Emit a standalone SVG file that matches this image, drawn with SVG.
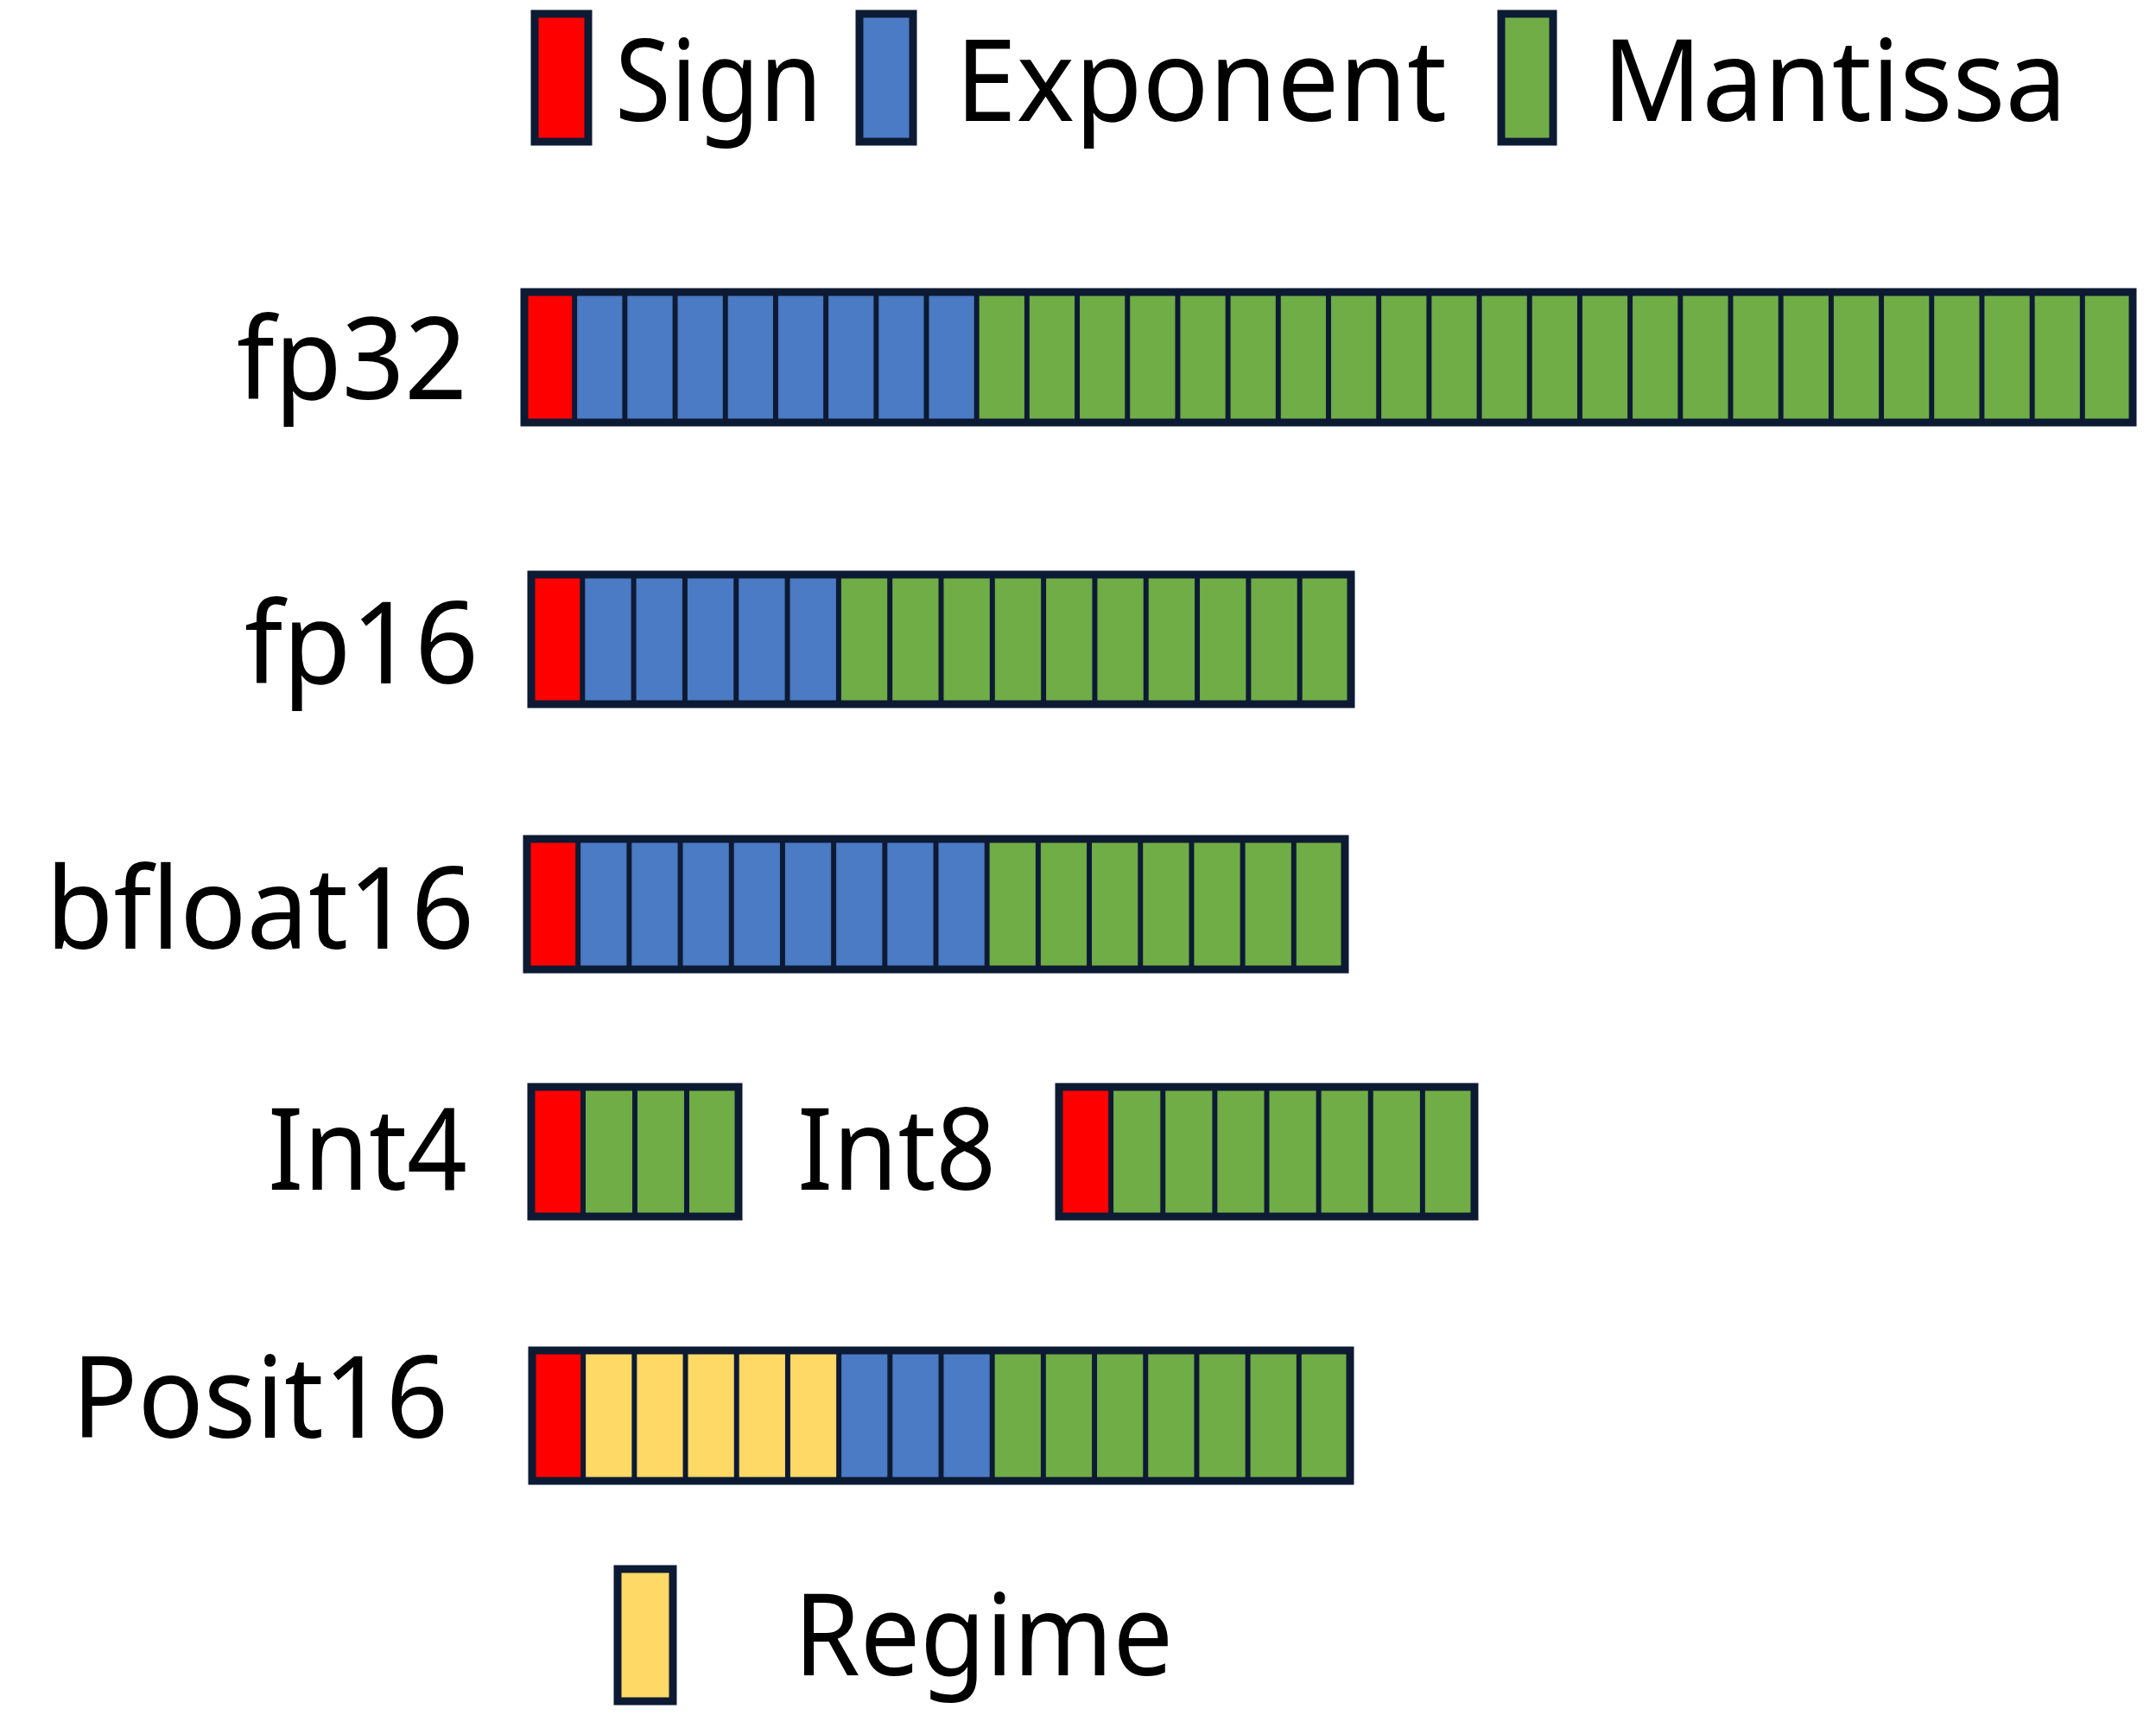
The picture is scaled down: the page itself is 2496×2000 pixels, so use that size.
<svg xmlns="http://www.w3.org/2000/svg" width="2496" height="2000" viewBox="0 0 2496 2000">
<style>
.r{fill:#ff0000}.b{fill:#4a7bc4}.g{fill:#70ad47}.y{fill:#ffd966}
.o{fill:none;stroke:#0d1a33;stroke-width:9}
.t{font-family:"Noto Sans","Open Sans",sans-serif;font-size:132px;fill:#000}
</style>
<defs>
<pattern id="p32" patternUnits="userSpaceOnUse" x="607" y="0" width="58.1875" height="2000"><rect x="0" y="0" width="3" height="2000" fill="#0d1a33"/><rect x="55.1875" y="0" width="3" height="2000" fill="#0d1a33"/></pattern>
<pattern id="p16" patternUnits="userSpaceOnUse" x="615" y="0" width="59.3125" height="2000"><rect x="0" y="0" width="3" height="2000" fill="#0d1a33"/><rect x="56.3125" y="0" width="3" height="2000" fill="#0d1a33"/></pattern>
<pattern id="pbf" patternUnits="userSpaceOnUse" x="610" y="0" width="59.1875" height="2000"><rect x="0" y="0" width="3" height="2000" fill="#0d1a33"/><rect x="56.1875" y="0" width="3" height="2000" fill="#0d1a33"/></pattern>
<pattern id="pi4" patternUnits="userSpaceOnUse" x="615" y="0" width="60" height="2000"><rect x="0" y="0" width="3" height="2000" fill="#0d1a33"/><rect x="57" y="0" width="3" height="2000" fill="#0d1a33"/></pattern>
<pattern id="pi8" patternUnits="userSpaceOnUse" x="1226" y="0" width="60.125" height="2000"><rect x="0" y="0" width="3" height="2000" fill="#0d1a33"/><rect x="57.125" y="0" width="3" height="2000" fill="#0d1a33"/></pattern>
<pattern id="pps" patternUnits="userSpaceOnUse" x="616" y="0" width="59.1875" height="2000"><rect x="0" y="0" width="3" height="2000" fill="#0d1a33"/><rect x="56.1875" y="0" width="3" height="2000" fill="#0d1a33"/></pattern>
</defs>
<rect width="2496" height="2000" fill="#fff"/>
<g id="legend">
<rect class="r" x="619" y="16" width="62" height="148"/><rect class="o" x="619" y="16" width="62" height="148"/>
<text class="t" x="712" y="140" textLength="240" lengthAdjust="spacingAndGlyphs">Sign</text>
<rect class="b" x="995" y="16" width="62" height="148"/><rect class="o" x="995" y="16" width="62" height="148"/>
<text class="t" x="1106" y="140" textLength="569" lengthAdjust="spacingAndGlyphs">Exponent</text>
<rect class="g" x="1738" y="16" width="60" height="148"/><rect class="o" x="1738" y="16" width="60" height="148"/>
<text class="t" x="1855" y="140" textLength="538" lengthAdjust="spacingAndGlyphs">Mantissa</text>
</g>
<g id="fp32">
<text class="t" x="274" y="462" textLength="267" lengthAdjust="spacingAndGlyphs">fp32</text>
<rect class="r" x="607" y="338" width="58.2" height="151"/><rect class="b" x="665.2" y="338" width="465.5" height="151"/><rect class="g" x="1130.7" y="338" width="1338.3" height="151"/>
<rect x="607" y="338" width="1862" height="151" fill="url(#p32)"/><rect class="o" x="607" y="338" width="1862" height="151"/>
</g>
<g id="fp16">
<text class="t" x="283" y="791" textLength="271" lengthAdjust="spacingAndGlyphs">fp16</text>
<rect class="r" x="615" y="665" width="59.3" height="150"/><rect class="b" x="674.3" y="665" width="296.6" height="150"/><rect class="g" x="970.9" y="665" width="593.1" height="150"/>
<rect x="615" y="665" width="949" height="150" fill="url(#p16)"/><rect class="o" x="615" y="665" width="949" height="150"/>
</g>
<g id="bfloat16">
<text class="t" x="53" y="1098" textLength="496" lengthAdjust="spacingAndGlyphs">bfloat16</text>
<rect class="r" x="610" y="971" width="59.2" height="151"/><rect class="b" x="669.2" y="971" width="473.7" height="151"/><rect class="g" x="1142.9" y="971" width="414.1" height="151"/>
<rect x="610" y="971" width="947" height="151" fill="url(#pbf)"/><rect class="o" x="610" y="971" width="947" height="151"/>
</g>
<g id="int4">
<text class="t" x="310" y="1377" textLength="231" lengthAdjust="spacingAndGlyphs">Int4</text>
<rect class="r" x="615" y="1258" width="60" height="150"/><rect class="g" x="675" y="1258" width="180" height="150"/>
<rect x="615" y="1258" width="240" height="150" fill="url(#pi4)"/><rect class="o" x="615" y="1258" width="240" height="150"/>
</g>
<g id="int8">
<text class="t" x="923" y="1377" textLength="230" lengthAdjust="spacingAndGlyphs">Int8</text>
<rect class="r" x="1226" y="1258" width="60.1" height="150"/><rect class="g" x="1286.1" y="1258" width="420.9" height="150"/>
<rect x="1226" y="1258" width="481" height="150" fill="url(#pi8)"/><rect class="o" x="1226" y="1258" width="481" height="150"/>
</g>
<g id="posit16">
<text class="t" x="83" y="1664" textLength="436" lengthAdjust="spacingAndGlyphs">Posit16</text>
<rect class="r" x="616" y="1563" width="59.2" height="151"/><rect class="y" x="675.2" y="1563" width="295.9" height="151"/><rect class="b" x="971.1" y="1563" width="177.6" height="151"/><rect class="g" x="1148.7" y="1563" width="414.3" height="151"/>
<rect x="616" y="1563" width="947" height="151" fill="url(#pps)"/><rect class="o" x="616" y="1563" width="947" height="151"/>
</g>
<g id="regime">
<rect class="y" x="715" y="1816" width="64" height="153"/><rect class="o" x="715" y="1816" width="64" height="153"/>
<text class="t" x="919" y="1939" textLength="439" lengthAdjust="spacingAndGlyphs">Regime</text>
</g>
<g id="connectors"/>
</svg>
